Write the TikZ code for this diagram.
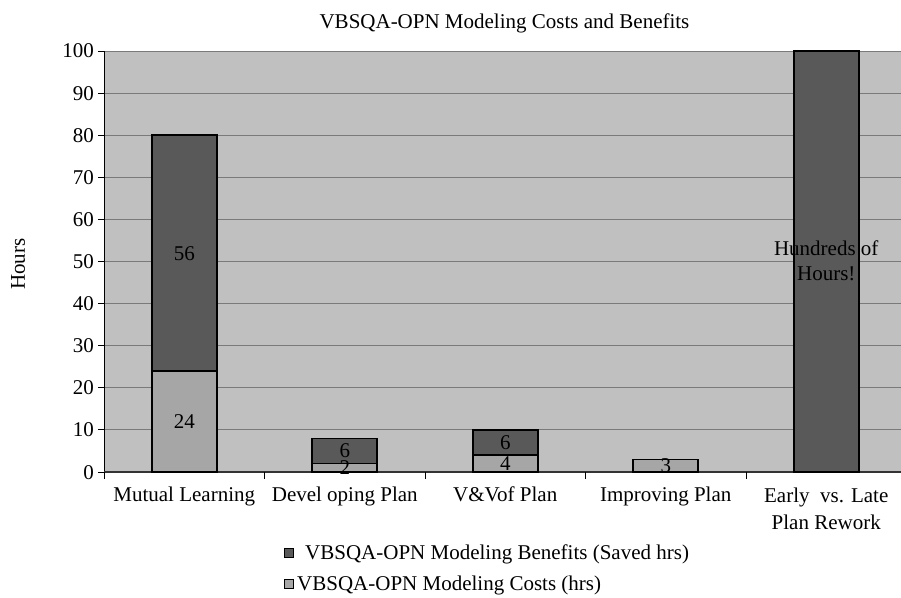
\documentclass[tikz,border=0pt]{standalone}
\usepackage{fontspec}
\setmainfont{Liberation Serif}
\definecolor{plotbg}{HTML}{C0C0C0}
\definecolor{benefitfill}{HTML}{595959}
\definecolor{costfill}{HTML}{A6A6A6}
\definecolor{gridgray}{HTML}{7A7A7A}
\begin{document}
\begin{tikzpicture}[x=1pt,y=-1pt,
  txt/.style={font=\fontsize{21}{25}\selectfont, inner sep=0pt},
  gridline/.style={draw=gridgray, line width=1pt},
  barcost/.style={fill=costfill, draw=black, line width=1.6pt},
  barbenefit/.style={fill=benefitfill, draw=black, line width=1.6pt},
  legendbox/.style={draw=black, line width=1pt, minimum size=9pt, inner sep=0pt}]
\useasboundingbox (0,0) rectangle (901,597);

% value -> vertical position
\def\yv#1{472-4.21*#1}

% plot area and horizontal grid
\fill[plotbg] (104,51) rectangle (901,472);
\foreach \v in {10,20,...,100}
  \draw[gridline] (104,{\yv{\v}}) -- (901,{\yv{\v}});

% axes
\draw[line width=1pt] (104,51) -- (104,472);
\draw[line width=1.5pt, draw=black!80] (104,472) -- (901,472);
\foreach \v in {0,10,...,100} {
  \draw[line width=1pt] (98,{\yv{\v}}) -- (104,{\yv{\v}});
  \node[txt, anchor=base east] (ytick\v) at (94,{\yv{\v}+7}) {\v};
}
\foreach \k in {0,...,4}
  \draw[line width=1pt] ({104+160.5*\k},472) -- ({104+160.5*\k},479);

% stacked bars
% Mutual Learning
\draw[barcost]    (151.75,{\yv{0}})  rectangle (216.75,{\yv{24}});
\draw[barbenefit] (151.75,{\yv{24}}) rectangle (216.75,{\yv{80}});
% Developing Plan
\draw[barcost]    (312.25,{\yv{0}}) rectangle (377.25,{\yv{2}});
\draw[barbenefit] (312.25,{\yv{2}}) rectangle (377.25,{\yv{8}});
% V&V of Plan
\draw[barcost]    (472.75,{\yv{0}}) rectangle (537.75,{\yv{4}});
\draw[barbenefit] (472.75,{\yv{4}}) rectangle (537.75,{\yv{10}});
% Improving Plan
\draw[barcost]    (633.25,{\yv{0}}) rectangle (698.25,{\yv{3}});
% Early vs. Late Plan Rework
\draw[barbenefit] (793.75,{\yv{0}}) rectangle (858.75,{\yv{100}});

% value labels
\node[txt, anchor=base] (v24) at (184.25,{\yv{12}+7}) {24};
\node[txt, anchor=base] (v56) at (184.25,{\yv{52}+7}) {56};
\node[txt, anchor=base] (v2)  at (344.75,{\yv{1}+7}) {2};
\node[txt, anchor=base] (v6a) at (344.75,{\yv{5}+7}) {6};
\node[txt, anchor=base] (v4)  at (505.25,{\yv{2}+7}) {4};
\node[txt, anchor=base] (v6b) at (505.25,{\yv{7}+7}) {6};
\node[txt, anchor=base] (v3)  at (665.75,{\yv{1.5}+7}) {3};
\node[txt, anchor=base] (hund1) at (826.25,255) {Hundreds of};
\node[txt, anchor=base] (hund2) at (826.25,280) {Hours!};

% category labels
\node[txt, anchor=base] (cat1) at (184.25,501) {Mutual Learning};
\node[txt, anchor=base] (cat2) at (344.75,501) {Devel oping Plan};
\node[txt, anchor=base] (cat3) at (505.25,501) {V\&Vof Plan};
\node[txt, anchor=base] (cat4) at (665.75,501) {Improving Plan};
\node[txt, anchor=base] (cat5a) at (826.25,502) {Early\ \ vs. Late};
\node[txt, anchor=base] (cat5b) at (826.25,529) {Plan Rework};

% title and axis title
\node[txt, anchor=base] (title) at (504.5,28) {VBSQA-OPN Modeling Costs and Benefits};
\node[txt, rotate=90] (ytitle) at (18,264) {Hours};

% legend
\node[legendbox, fill=benefitfill] (keyben) at (289,552.5) {};
\node[txt, anchor=base west] (legben) at (305,559) {VBSQA-OPN Modeling Benefits (Saved hrs)};
\node[legendbox, fill=costfill] (keycost) at (289,583.5) {};
\node[txt, anchor=base west] (legcost) at (297,590) {VBSQA-OPN Modeling Costs (hrs)};
\end{tikzpicture}
\end{document}
